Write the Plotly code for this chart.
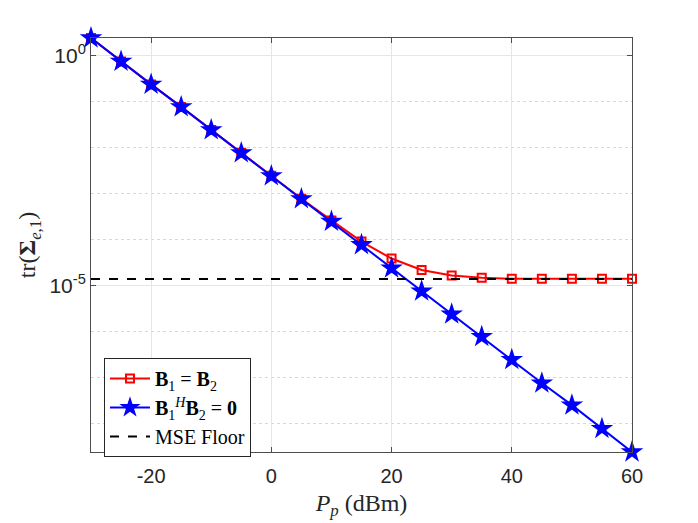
import plotly.graph_objects as go

# transmit power (dBm)
pp = [-30, -25, -20, -15, -10, -5, 0, 5, 10, 15, 20, 25, 30, 35, 40, 45, 50, 55, 60]

# log10 of tr(Sigma_e,1)
log_same = [0.39, -0.12, -0.62, -1.11, -1.61, -2.11, -2.61, -3.11, -3.58, -4.04,
            -4.41, -4.66, -4.78, -4.83, -4.85, -4.85, -4.85, -4.85, -4.85]
log_orth = [0.39, -0.12, -0.62, -1.11, -1.61, -2.11, -2.61, -3.11, -3.60, -4.11,
            -4.62, -5.12, -5.62, -6.11, -6.61, -7.12, -7.60, -8.11, -8.62]
log_floor = -4.855

y_same = [10 ** v for v in log_same]
y_orth = [10 ** v for v in log_orth]
floor = 10 ** log_floor

serif = "Liberation Serif"
sans = "Liberation Sans"

fig = go.Figure()

fig.add_trace(go.Scatter(
    x=pp, y=y_same, mode="lines+markers", cliponaxis=False,
    name="<b>B</b><sub>1</sub> = <b>B</b><sub>2</sub>",
    line=dict(color="#ff0000", width=2),
    marker=dict(symbol="square-open", size=8, color="#ff0000", line=dict(width=2)),
))
fig.add_trace(go.Scatter(
    x=pp, y=y_orth, mode="lines+markers", cliponaxis=False,
    name="<b>B</b><sub>1</sub><sup><i>H</i></sup><b>B</b><sub>2</sub> = <b>0</b>",
    line=dict(color="#0000ff", width=2),
    marker=dict(symbol="star", size=17, color="#0000ff", line=dict(width=0)),
))
fig.add_trace(go.Scatter(
    x=[pp[0], pp[-1]], y=[floor, floor], mode="lines",
    name="MSE Floor",
    line=dict(color="black", width=2, dash="dash"),
))

axis_col = "#4d4d4d"
grid_col = "#e6e6e6"

fig.update_xaxes(
    range=[-30, 60], tickvals=[-20, 0, 20, 40, 60],
    ticktext=["-20", "0", "20", "40", "60"],
    showline=True, linecolor=axis_col, linewidth=1, mirror="ticks",
    ticks="inside", ticklen=5, tickcolor=axis_col, ticklabelstandoff=6,
    showgrid=True, gridcolor=grid_col, zeroline=False,
    tickfont=dict(family=sans, size=20, color="#262626"),
    title=dict(text="<i>P</i><sub><i>p</i></sub> (dBm)",
               font=dict(family=serif, size=24, color="#262626"), standoff=8),
)
fig.update_yaxes(
    type="log", range=[-8.62, 0.39],
    tickvals=[1, 1e-5], ticktext=["10<sup>0</sup>", "10<sup>-5</sup>"],
    showline=True, linecolor=axis_col, linewidth=1, mirror="ticks",
    ticks="inside", ticklen=5, tickcolor=axis_col,
    showgrid=True, gridcolor=grid_col, zeroline=False,
    minor=dict(tickvals=[1e-1, 1e-2, 1e-3, 1e-4, 1e-6, 1e-7, 1e-8],
               showgrid=True, gridcolor="#d8d8d8", griddash="dot", ticks=""),
    tickfont=dict(family=sans, size=21, color="#262626"),
    title=dict(text="tr(<b>Σ</b><sub><i>e</i>,1</sub>)",
               font=dict(family=serif, size=24, color="#262626"), standoff=6),
)

# page body adds an 8px margin, so shrink the figure to keep the plot box in place
fig.update_layout(
    width=690, height=515,
    margin=dict(l=83, r=66, t=30, b=71),
    plot_bgcolor="white", paper_bgcolor="white",
    legend=dict(x=0.024, y=0.227, xanchor="left", yanchor="top",
                bgcolor="white", bordercolor="#262626", borderwidth=1,
                font=dict(family=serif, size=20, color="black"),
                tracegroupgap=0, itemwidth=40),
)

fig.write_html("out.html")
